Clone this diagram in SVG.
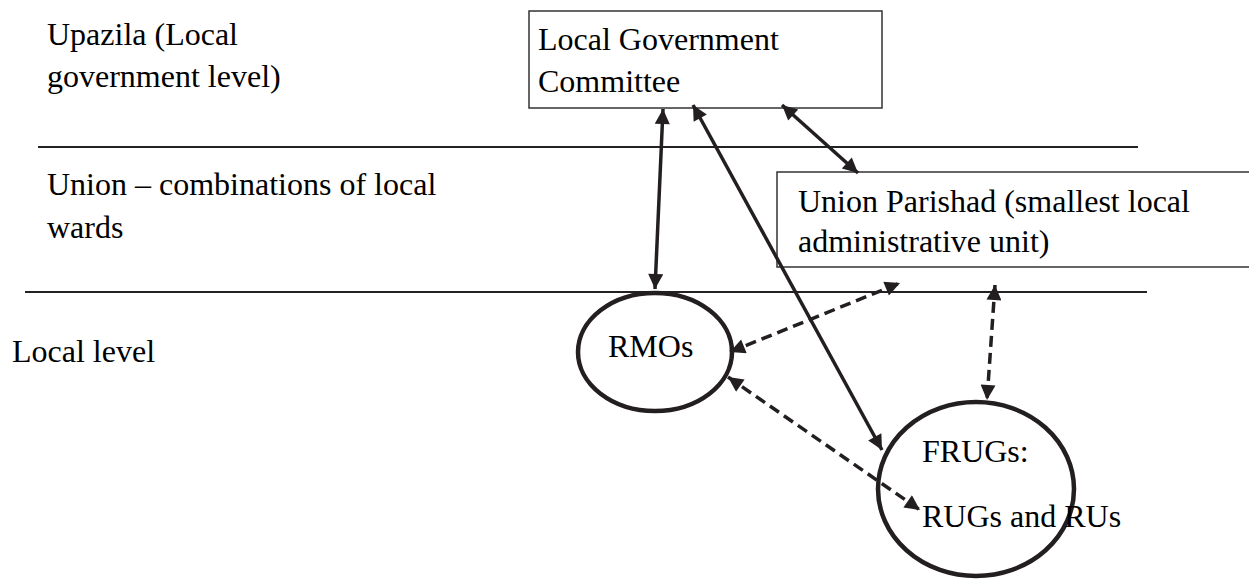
<svg xmlns="http://www.w3.org/2000/svg" width="1249" height="579" viewBox="0 0 1249 579">
<style>
text{font-family:"Liberation Serif","Times New Roman","DejaVu Serif",serif;font-size:32px;fill:#000}
.sep{stroke:#222;stroke-width:2}
.box{fill:#fff;stroke:#333;stroke-width:1.5}
.ell{fill:none;stroke:#231f20;stroke-width:4.5}
.con{stroke:#231f20;stroke-width:3.5;fill:none}
.dash{stroke-dasharray:11 6}
</style>
<defs>
<marker id="ah" viewBox="0 0 10 10" refX="10" refY="5" markerWidth="18" markerHeight="15" markerUnits="userSpaceOnUse" orient="auto-start-reverse">
<path d="M0,0 L10,5 L0,10 z" fill="#231f20"/>
</marker>
</defs>
<g id="levels">
<line class="sep" x1="38" y1="147" x2="1138" y2="147"/>
<line class="sep" x1="25" y1="292" x2="1147" y2="292"/>
<text x="47" y="45" font-family="Liberation Serif, serif">Upazila (Local</text>
<text x="47" y="87" font-family="Liberation Serif, serif">government level)</text>
<text x="47" y="195" font-family="Liberation Serif, serif">Union – combinations of local</text>
<text x="47" y="238" font-family="Liberation Serif, serif">wards</text>
<text x="12" y="362" font-family="Liberation Serif, serif">Local level</text>
</g>
<g id="lgc">
<rect class="box" x="529" y="11" width="353" height="97"/>
<text x="538" y="50" font-family="Liberation Serif, serif">Local Government</text>
<text x="538" y="92" font-family="Liberation Serif, serif">Committee</text>
</g>
<g id="up">
<rect class="box" x="777" y="172" width="480" height="95"/>
<text x="798" y="212" font-family="Liberation Serif, serif">Union Parishad (smallest local</text>
<text x="798" y="252" font-family="Liberation Serif, serif">administrative unit)</text>
</g>
<g id="rmos">
<ellipse class="ell" cx="655" cy="352" rx="77" ry="59"/>
<text x="608" y="357" font-family="Liberation Serif, serif">RMOs</text>
</g>
<g id="frugs">
<ellipse class="ell" cx="976" cy="489" rx="98" ry="87"/>
<text x="922" y="462" font-family="Liberation Serif, serif">FRUGs:</text>
<text x="922" y="527" font-family="Liberation Serif, serif">RUGs and RUs</text>
</g>
<g id="connectors">
<line class="con" x1="663" y1="109" x2="655" y2="289" marker-start="url(#ah)" marker-end="url(#ah)"/>
<line class="con" x1="693" y1="105" x2="882" y2="450" marker-start="url(#ah)" marker-end="url(#ah)"/>
<line class="con" x1="782" y1="105" x2="858" y2="173" marker-start="url(#ah)" marker-end="url(#ah)"/>
<line class="con dash" x1="730" y1="352" x2="900" y2="283" marker-start="url(#ah)" marker-end="url(#ah)"/>
<line class="con dash" x1="995" y1="285" x2="987" y2="400" marker-start="url(#ah)" marker-end="url(#ah)"/>
<line class="con dash" x1="728" y1="377" x2="920" y2="510" marker-start="url(#ah)" marker-end="url(#ah)"/>
</g>
</svg>
